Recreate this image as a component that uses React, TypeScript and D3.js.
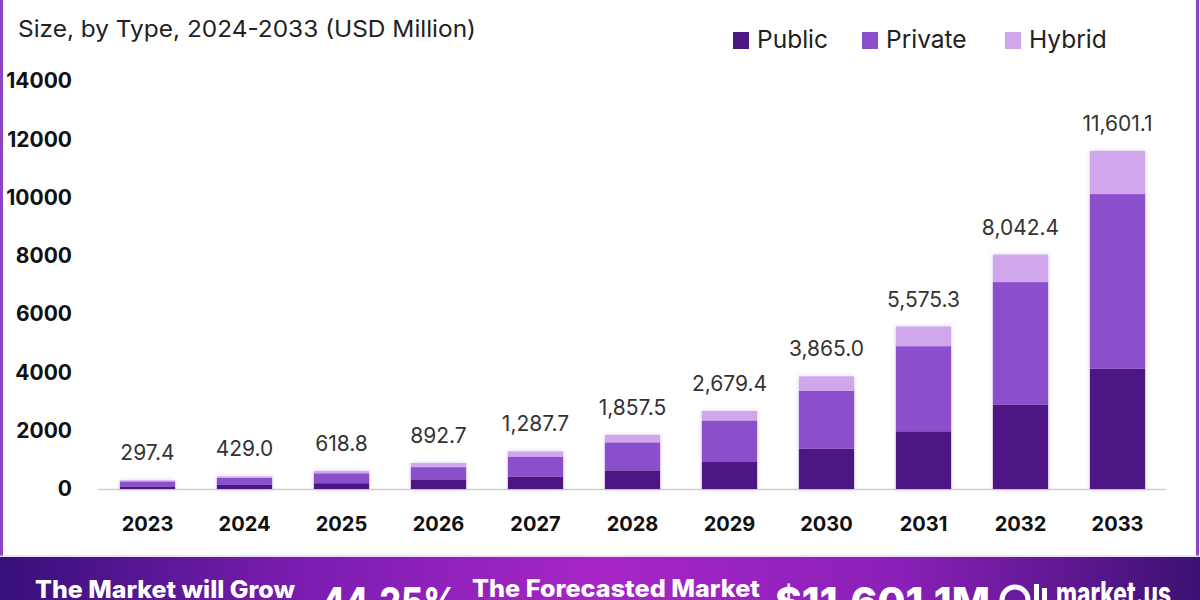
import { useEffect, useRef } from "react";
import * as d3 from "d3";

const years = ["2023", "2024", "2025", "2026", "2027", "2028", "2029", "2030", "2031", "2032", "2033"];
const totals = [297.4, 429.0, 618.8, 892.7, 1287.7, 1857.5, 2679.4, 3865.0, 5575.3, 8042.4, 11601.1];
const publicVals = [90, 140, 200, 310, 430, 640, 950, 1380, 1980, 2900, 4130];
const privateVals = [170, 240, 340, 440, 680, 960, 1400, 1990, 2920, 4200, 5990];
const hybridVals = [37.4, 49, 78.8, 142.7, 177.7, 257.5, 329.4, 495, 675.3, 942.4, 1481.1];
const seriesNames = ["Public", "Private", "Hybrid"];
const seriesColors = ["#4d1884", "#8b4fcc", "#d1a7ec"];
const yTicks = [0, 2000, 4000, 6000, 8000, 10000, 12000, 14000];

const FONT = "Inter, 'Open Sans', sans-serif";

export default function App() {
    const svgRef = useRef<SVGSVGElement | null>(null);

    useEffect(() => {
        if (!svgRef.current) return;
        document.body.style.margin = "0";
        const svg = d3.select(svgRef.current);
        svg.selectAll("*").remove();

        const width = 1200;
        const height = 600;

        // gradient for the bottom banner + soft shadow for bars
        const defs = svg.append("defs");
        const grad = defs.append("linearGradient").attr("id", "banner").attr("x1", "0").attr("x2", "1");
        [
            [0, "#37107a"],
            [0.25, "#7a1db0"],
            [0.5, "#a726c6"],
            [0.75, "#8a20b8"],
            [1, "#3c1172"],
        ].forEach(([o, c]) => grad.append("stop").attr("offset", o as number).attr("stop-color", c as string));
        const shadow = defs.append("filter").attr("id", "shadow").attr("x", "-20%").attr("y", "-20%").attr("width", "140%").attr("height", "140%");
        shadow.append("feDropShadow").attr("dx", 0).attr("dy", 0).attr("stdDeviation", 2).attr("flood-color", "#9b6ad0").attr("flood-opacity", 0.35);

        svg.append("rect").attr("width", width).attr("height", height).attr("fill", "#ffffff");

        // frame borders
        svg.append("line").attr("x1", 1.5).attr("x2", 1.5).attr("y1", 0).attr("y2", 556)
            .attr("stroke", "#8c45c6").attr("stroke-width", 3);
        svg.append("line").attr("x1", 1197.5).attr("x2", 1197.5).attr("y1", 0).attr("y2", 556)
            .attr("stroke", "#8c45c6").attr("stroke-width", 3);

        // subtitle
        svg.append("text").attr("x", 18).attr("y", 37)
            .attr("font-family", FONT).attr("font-size", 23).attr("fill", "#222")
            .attr("textLength", 458).attr("lengthAdjust", "spacingAndGlyphs")
            .text("Size, by Type, 2024-2033 (USD Million)");

        // scales
        const x = d3.scaleBand().domain(years).range([99, 1166]).paddingInner(0.43).paddingOuter(0.215);
        const y = d3.scaleLinear().domain([0, 14000]).range([489, 81]);

        // y axis
        const yAxis = svg.append("g").attr("transform", "translate(72,0)")
            .call(d3.axisLeft(y).tickValues(yTicks).tickFormat((d) => `${d}`).tickSize(0).tickPadding(0));
        yAxis.select(".domain").remove();
        yAxis.selectAll("text").attr("font-family", FONT).attr("font-size", 21).attr("font-weight", 700).attr("fill", "#111");

        // baseline
        svg.append("line").attr("x1", 98).attr("x2", 1166).attr("y1", 489.5).attr("y2", 489.5)
            .attr("stroke", "#cfcfcf").attr("stroke-width", 1.5);

        // x axis
        const xAxis = svg.append("g").attr("transform", "translate(0,489)")
            .call(d3.axisBottom(x).tickSize(0).tickPadding(28));
        xAxis.select(".domain").remove();
        xAxis.selectAll("text").attr("font-family", FONT).attr("font-size", 20).attr("font-weight", 700).attr("fill", "#111");

        // stacked bars
        const rows = years.map((yr, i) => ({ year: yr, Public: publicVals[i], Private: privateVals[i], Hybrid: hybridVals[i] }));
        const stacked = d3.stack<any>().keys(seriesNames)(rows);
        const barG = svg.append("g").attr("filter", "url(#shadow)");
        stacked.forEach((layer, li) => {
            barG.selectAll(`.bar-${li}`)
                .data(layer)
                .enter()
                .append("rect")
                .attr("x", (d) => x(d.data.year) || 0)
                .attr("y", (d) => y(d[1]))
                .attr("width", x.bandwidth())
                .attr("height", (d) => y(d[0]) - y(d[1]))
                .attr("fill", seriesColors[li]);
        });

        // total labels
        svg.selectAll(".total-label")
            .data(years)
            .enter()
            .append("text")
            .attr("x", (d) => (x(d) || 0) + x.bandwidth() / 2)
            .attr("y", (_, i) => y(totals[i]) - 20)
            .attr("text-anchor", "middle")
            .attr("font-family", FONT).attr("font-size", 21).attr("fill", "#333")
            .text((_, i) => d3.format(",.1f")(totals[i]));

        // legend
        const legendX = [733, 862, 1005];
        seriesNames.forEach((name, i) => {
            svg.append("rect").attr("x", legendX[i]).attr("y", 32).attr("width", 16).attr("height", 17).attr("fill", seriesColors[i]);
            svg.append("text").attr("x", legendX[i] + 24).attr("y", 48)
                .attr("font-family", FONT).attr("font-size", 24.5).attr("fill", "#222").text(name);
        });

        // bottom banner
        svg.append("line").attr("x1", 0).attr("x2", width).attr("y1", 556).attr("y2", 556).attr("stroke", "#d9c6ea").attr("stroke-width", 1);
        svg.append("rect").attr("x", 0).attr("y", 557).attr("width", width).attr("height", 43).attr("fill", "url(#banner)");
        const bannerText = (tx: number, ty: number, size: number, len: number, t: string) =>
            svg.append("text").attr("x", tx).attr("y", ty)
                .attr("font-family", FONT).attr("font-size", size).attr("font-weight", 800).attr("fill", "#fff")
                .attr("textLength", len).attr("lengthAdjust", "spacingAndGlyphs").text(t);
        bannerText(35, 598, 24, 260, "The Market will Grow");
        bannerText(322, 616, 40, 136, "44.25%");
        bannerText(472, 597, 24, 288, "The Forecasted Market");
        bannerText(775, 616, 40, 215, "$11,601.1M");
        // logo
        svg.append("circle").attr("cx", 1015).attr("cy", 600).attr("r", 13).attr("fill", "none").attr("stroke", "#fff").attr("stroke-width", 5);
        svg.append("rect").attr("x", 1034).attr("y", 584).attr("width", 5).attr("height", 20).attr("fill", "#fff");
        svg.append("rect").attr("x", 1042).attr("y", 588).attr("width", 5).attr("height", 16).attr("fill", "#fff");
        bannerText(1056, 605, 32, 115, "market.us");
    }, []);

    return <svg ref={svgRef} width={1200} height={600} style={{ position: "fixed", top: 0, left: 0, display: "block" }} />;
}
